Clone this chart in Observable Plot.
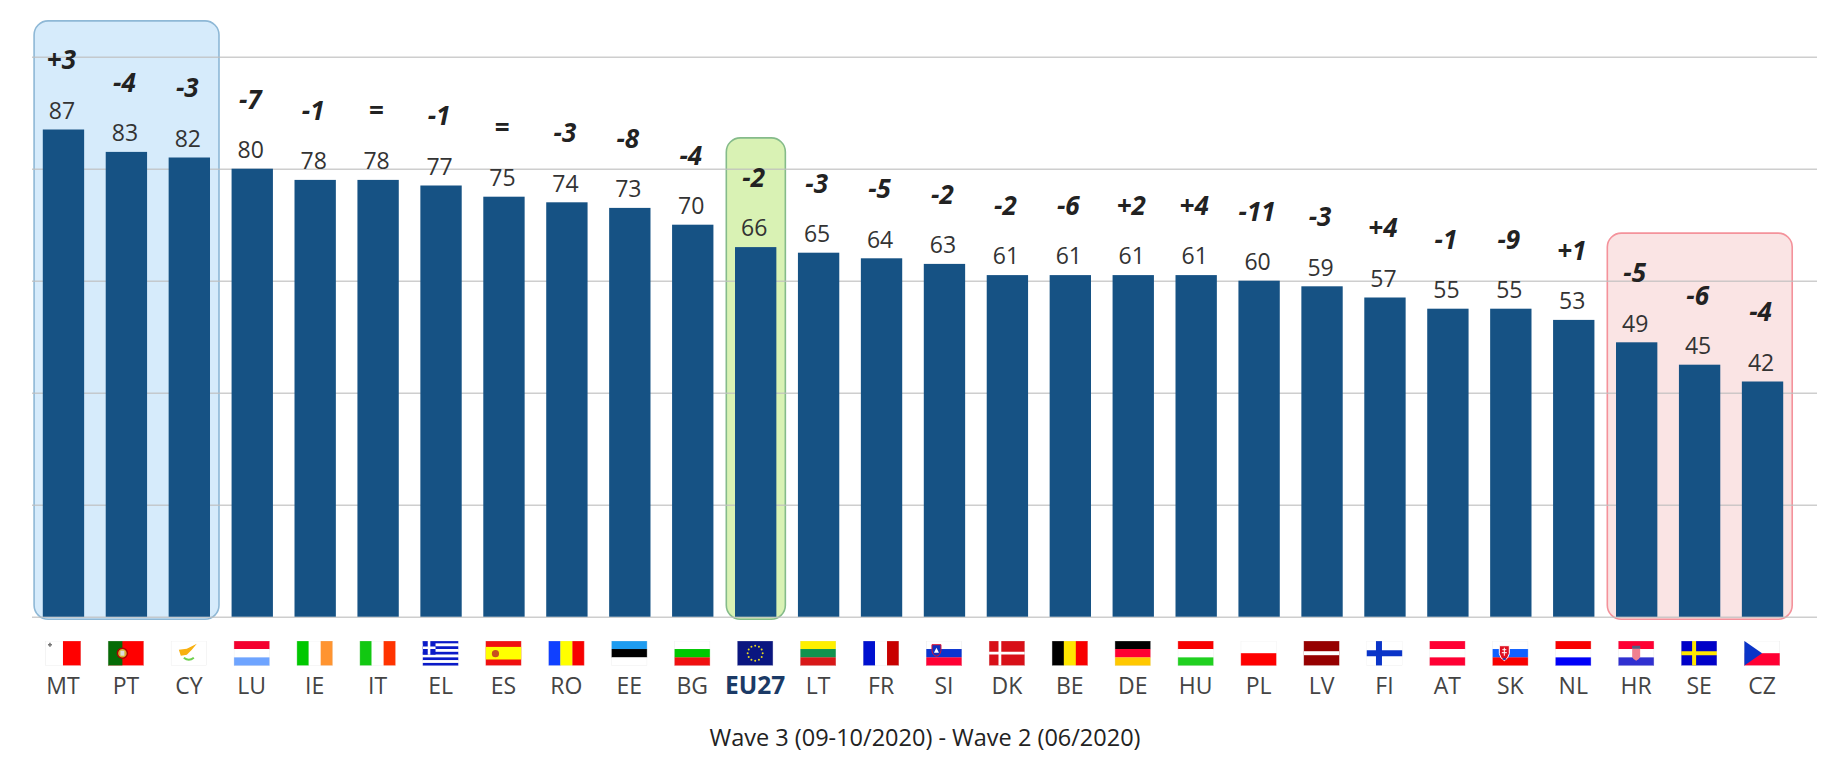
<!DOCTYPE html>
<html>
<head>
<meta charset="utf-8">
<style>html,body{margin:0;padding:0;background:#fff}svg{display:block}</style>
<script src="https://cdn.jsdelivr.net/npm/d3@7"></script>
<script src="https://cdn.jsdelivr.net/npm/@observablehq/plot@0.6"></script>
</head>
<body>
<div id="chart"></div>
<script>
const countries = ["MT","PT","CY","LU","IE","IT","EL","ES","RO","EE","BG","EU27","LT","FR","SI","DK","BE","DE","HU","PL","LV","FI","AT","SK","NL","HR","SE","CZ"];
const values = [87,83,82,80,78,78,77,75,74,73,70,66,65,64,63,61,61,61,61,60,59,57,55,55,53,49,45,42];
const deltas = ["+3","-4","-3","-7","-1","=","-1","=","-3","-8","-4","-2","-3","-5","-2","-2","-6","+2","+4","-11","-3","+4","-1","-9","+1","-5","-6","-4"];
const gridValues = [0,20,40,60,80,100];
const caption = "Wave 3 (09-10/2020) - Wave 2 (06/2020)";

const H = (...c) => c.map((k,i)=>`<rect x="0" y="${i*25/c.length}" width="36" height="${25/c.length+.2}" fill="${k}"/>`).join("");
const V = (...c) => c.map((k,i)=>`<rect x="${i*36/c.length}" y="0" width="${36/c.length+.2}" height="25" fill="${k}"/>`).join("");
const euStars = d3.range(12).map(i=>`<circle cx="${18+7.5*Math.cos(i*Math.PI/6)}" cy="${12.5+7.5*Math.sin(i*Math.PI/6)}" r="1" fill="#e8d820"/>`).join("");
const flagArt = {
  MT: V("#fff","#f00")+`<path d="M3 4h4M5 2v4" stroke="#777" stroke-width="1.6"/>`,
  PT: `<rect width="36" height="25" fill="#f00"/><rect width="14.5" height="25" fill="#066b06"/><circle cx="14.5" cy="12.5" r="5" fill="#d8b030" stroke="#a00" stroke-width="1.5"/><rect x="12.5" y="10" width="4" height="5" fill="#ddd"/>`,
  CY: `<rect width="36" height="25" fill="#fff"/><path d="M8 9l8-1 10-5-5 6-5 5-6 1-1-3z" fill="#f8b010"/><path d="M13 17q5 4 10 0" fill="none" stroke="#70d050" stroke-width="2"/>`,
  LU: H("#f4002e","#fff","#6ea4ff"),
  IE: V("#00c800","#fff","#ff9430"),
  IT: V("#12c812","#fff","#ff3300"),
  EL: H("#0a1ac8","#fff","#0a1ac8","#fff","#0a1ac8","#fff","#0a1ac8","#fff","#0a1ac8")+`<rect width="13" height="14" fill="#0a1ac8"/><path d="M6.5 0v14M0 7h13" stroke="#fff" stroke-width="2.6"/>`,
  ES: `<rect width="36" height="25" fill="#f01010"/><rect y="6.2" width="36" height="12.6" fill="#ffff00"/><circle cx="10" cy="13" r="3.6" fill="#c85020"/>`,
  RO: V("#1040ff","#ffff00","#f80000"),
  EE: H("#1e9cf0","#000","#fff"),
  BG: H("#fff","#00c800","#f01010"),
  EU27: `<rect width="36" height="25" fill="#0a1680"/>`+euStars,
  LT: H("#fff000","#10934f","#d81818"),
  FR: V("#0010d0","#fff","#c80000"),
  SI: H("#fff","#0a34d0","#ff0033")+`<path d="M6 4h9v6q-1 5-4.500 5.500Q7 15 6 10z" fill="#1030c0" stroke="#e01030" stroke-width="1"/><path d="M8 12l2.500-5 2.500 5z" fill="#fff"/>`,
  DK: `<rect width="36" height="25" fill="#d81018"/><path d="M11 0v25M0 12.500h36" stroke="#fff" stroke-width="2.800"/>`,
  BE: V("#000","#ffe600","#f80000"),
  DE: H("#000","#ff0033","#ffc800"),
  HU: H("#f80000","#fff","#20d020"),
  PL: H("#fff","#fe0000"),
  LV: `<rect width="36" height="25" fill="#960000"/><rect y="10.500" width="36" height="4" fill="#fff"/>`,
  FI: `<rect width="36" height="25" fill="#fff"/><path d="M12.500 0v25M0 12.500h36" stroke="#0a34c8" stroke-width="6"/>`,
  AT: H("#ff0033","#fff","#ff0033"),
  SK: H("#fff","#1060ff","#f80000")+`<path d="M7 5h10v8q-1 5-5 7-4-2-5-7z" fill="#e01020" stroke="#fff" stroke-width="1"/><path d="M10 19q2-4 4 0z" fill="#1040c0"/><path d="M12 7v8M10 9h4M9.500 12h5" stroke="#fff" stroke-width="1"/>`,
  NL: H("#f80000","#fff","#0000f8"),
  HR: H("#ff0033","#fff","#3030d0")+`<path d="M14 7h8v9q-1 3-4 4-3-1-4-4z" fill="#f08090"/><path d="M14 5h8v3h-8z" fill="#506080"/>`,
  SE: `<rect width="36" height="25" fill="#0000c8"/><path d="M13 0v25M0 12.500h36" stroke="#ffe600" stroke-width="4"/>`,
  CZ: `<rect width="36" height="25" fill="#fff"/><rect y="12.500" width="36" height="12.500" fill="#ff0033"/><path d="M0 0l18 12.500L0 25z" fill="#0a34c8"/>`
};
const flagSrc = c => "data:image/svg+xml," + encodeURIComponent(
  `<svg xmlns="http://www.w3.org/2000/svg" viewBox="0 0 36 25" width="36" height="25" preserveAspectRatio="none">${flagArt[c]}<rect x=".25" y=".25" width="35.500" height="24.500" fill="none" stroke="#ddd" stroke-opacity=".7" stroke-width=".5"/></svg>`);

const rows = countries.map((c,i)=>({country:c,value:values[i],delta:deltas[i]}));

const highlight = (first,last,top,fill,stroke) => Plot.rect([{first,last,top}],{
  x1:"first", x2:"last", y1:0, y2:"top",
  fill, stroke, strokeWidth:1.6, rx:14,
  insetLeft:-8.7, insetRight:-9, insetBottom:-2.5
});

const chart = Plot.plot({
  width:1832, height:770,
  marginTop:56.7, marginBottom:153.3, marginLeft:32, marginRight:15,
  style:{fontFamily:"'Open Sans',sans-serif",background:"#fff",overflow:"visible"},
  x:{domain:countries, range:[32,1794], paddingInner:0.343, paddingOuter:0.1715, round:false, label:null},
  y:{domain:[0,100], label:null, axis:null},
  marks:[
    highlight("MT","CY",106.4,"#d6ebfb","#8eb8d6"),
    highlight("EU27","EU27",85.5,"#d9f2b4","#85bb8a"),
    highlight("HR","CZ",68.5,"#fae4e4","#f4929b"),
    Plot.ruleY(gridValues,{stroke:"#bdbdbd",strokeOpacity:.75,strokeWidth:1.5}),
    Plot.barY(rows,{x:"country",y:"value",fill:"#165284"}),
    Plot.text(rows,{x:"country",y:"value",text:d=>String(d.value),dx:-2,dy:-18.5,fontSize:23,fill:"#333"}),
    Plot.text(rows,{x:"country",y:"value",text:"delta",dx:-2.500,dy:-69,fontSize:26,fontWeight:700,fontStyle:"italic",fill:"#222"}),
    Plot.image(rows,{x:"country",frameAnchor:"bottom",dx:-1,dy:36,width:36,height:25,src:d=>flagSrc(d.country),preserveAspectRatio:"none"}),
    Plot.axisX({tickSize:0,tickPadding:60,dx:-1,fontSize:23,fill:"#444",label:null,tickFormat:d=>d==="EU27"?"":d}),
    Plot.text(rows.filter(d=>d.country==="EU27"),{x:"country",frameAnchor:"bottom",dx:-1,dy:77,text:"country",fontSize:24.5,fontWeight:700,fill:"#1b3a66"}),
    Plot.text([caption],{frameAnchor:"bottom",dy:129,text:d=>d,fontSize:23.500,fill:"#222"})
  ]
});
document.getElementById("chart").append(chart);
</script>
</body>
</html>
